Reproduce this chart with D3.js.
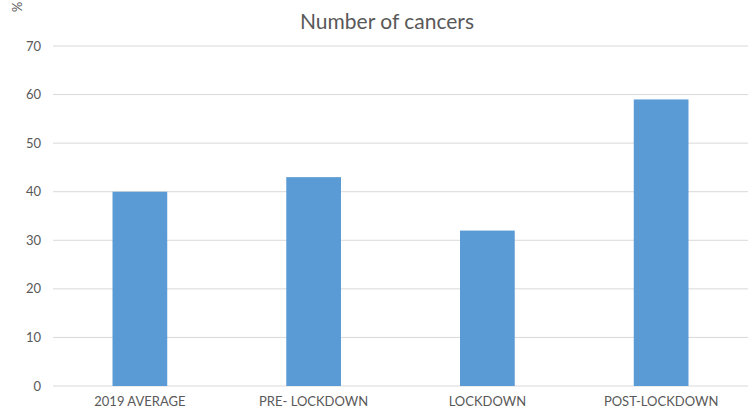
<!DOCTYPE html>
<html>
<head>
<style>
  body { margin: 0; background: #fff; }
  svg { font-family: "Lato", "Open Sans", sans-serif; }
</style>
</head>
<body>
<script src="https://d3js.org/d3.v7.min.js"></script>
<div id="chart"></div>
<script>
var categories = ["2019 AVERAGE", "PRE- LOCKDOWN", "LOCKDOWN", "POST-LOCKDOWN"];
var values = [40, 43, 32, 59];
var yTicks = [0, 10, 20, 30, 40, 50, 60, 70];

var width = 749, height = 410;
var margin = {top: 46, right: 1, bottom: 24, left: 53};

var svg = d3.select("#chart").append("svg")
  .attr("width", width)
  .attr("height", height);

var x = d3.scaleBand()
  .domain(categories)
  .range([margin.left, width - margin.right])
  .paddingInner(0.685)
  .paddingOuter(0.3425);

var y = d3.scaleLinear()
  .domain([0, 70])
  .range([height - margin.bottom, margin.top]);

// gridlines
svg.append("g")
  .selectAll("line")
  .data(yTicks)
  .enter().append("line")
    .attr("x1", margin.left)
    .attr("x2", width - margin.right)
    .attr("y1", d => y(d))
    .attr("y2", d => y(d))
    .attr("stroke", "#d9d9d9")
    .attr("stroke-width", 1);

// y tick labels
svg.append("g")
  .selectAll("text")
  .data(yTicks)
  .enter().append("text")
    .attr("x", 41)
    .attr("y", d => y(d))
    .attr("dy", "0.35em")
    .attr("text-anchor", "end")
    .attr("font-size", "13px")
    .attr("fill", "#595959")
    .text(d => d);

// bars
svg.append("g")
  .selectAll("rect")
  .data(values)
  .enter().append("rect")
    .attr("x", (d, i) => x(categories[i]))
    .attr("y", d => y(d))
    .attr("width", x.bandwidth())
    .attr("height", d => y(0) - y(d))
    .attr("fill", "#5b9bd5");

// x labels
svg.append("g")
  .selectAll("text")
  .data(categories)
  .enter().append("text")
    .attr("x", d => x(d) + x.bandwidth() / 2)
    .attr("y", 406)
    .attr("text-anchor", "middle")
    .attr("font-size", "13px")
    .attr("fill", "#595959")
    .text(d => d);

// title
svg.append("text")
  .attr("x", 387)
  .attr("y", 29)
  .attr("text-anchor", "middle")
  .attr("font-size", "21px")
  .attr("fill", "#595959")
  .text("Number of cancers");

// y unit
svg.append("text")
  .attr("transform", "translate(12,7) rotate(90)")
  .attr("text-anchor", "middle")
  .attr("font-size", "13px")
  .attr("fill", "#595959")
  .text("%");
</script>
</body>
</html>
